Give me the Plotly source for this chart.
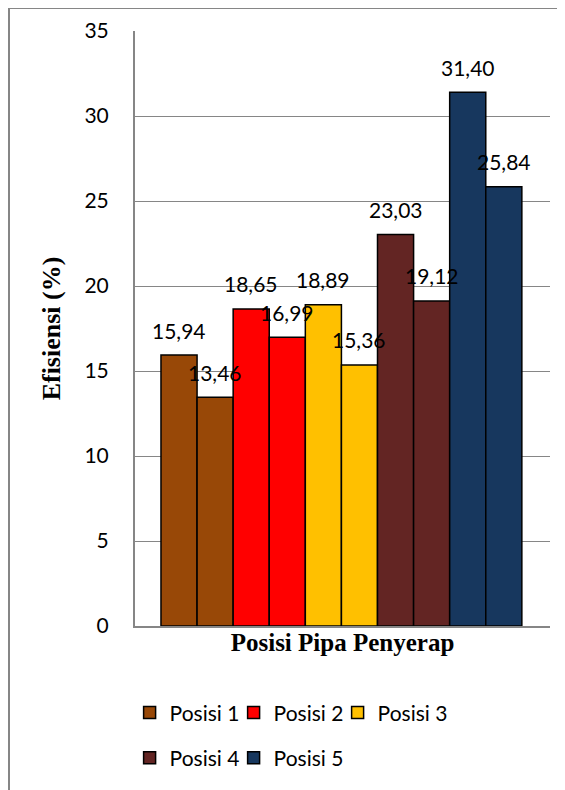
import plotly.graph_objects as go

series_names = ["Posisi 1", "Posisi 2", "Posisi 3", "Posisi 4", "Posisi 5"]
series_colors = ["#984807", "#FF0000", "#FFC000", "#632523", "#17375E"]
series_values = [
    [15.94, 13.46],
    [18.65, 16.99],
    [18.89, 15.36],
    [23.03, 19.12],
    [31.40, 25.84],
]
y_ticks = [0, 5, 10, 15, 20, 25, 30, 35]

FONT = "Lato"
GRID = "#868686"

fig = go.Figure()
annotations = []
idx = 0
for i, (name, color, vals) in enumerate(zip(series_names, series_colors, series_values)):
    xs = list(range(idx, idx + len(vals)))
    idx += len(vals)
    fig.add_trace(go.Bar(
        x=xs, y=vals, name=name, width=1,
        marker=dict(color=color, line=dict(color="black", width=1.5)),
        legend="legend" if i < 3 else "legend2",
        hoverinfo="skip",
    ))
    for x, v in zip(xs, vals):
        annotations.append(dict(
            x=x, y=v, xref="x", yref="y", text=f"{v:.2f}".replace(".", ","),
            showarrow=False, yanchor="middle", yshift=25,
            font=dict(family=FONT, size=21, color="black"),
        ))

# empty spacer entries so the fixed-width legend rows are not clipped at the last item
for lg in ["legend", "legend2"]:
    fig.add_trace(go.Bar(
        x=[None], y=[None], name=" ", legend=lg, showlegend=True,
        marker=dict(color="rgba(0,0,0,0)", line=dict(width=0)), hoverinfo="skip",
    ))

legend_common = dict(
    orientation="h", xanchor="left", yanchor="middle",
    font=dict(family=FONT, size=21, color="black"),
    itemwidth=30, bgcolor="rgba(0,0,0,0)", tracegroupgap=0,
    entrywidth=59, itemclick=False, itemdoubleclick=False,
)

fig.update_layout(
    width=557, height=782,
    margin=dict(l=127, r=15, t=23, b=164, autoexpand=False),
    paper_bgcolor="white", plot_bgcolor="white",
    barmode="overlay",
    showlegend=True,
    legend=dict(x=-0.013, y=-0.146, **legend_common),
    legend2=dict(x=-0.013, y=-0.222, **legend_common),
    annotations=annotations,
    xaxis=dict(
        range=[-1.22, 10.28], showticklabels=False, showgrid=False, zeroline=False,
        showline=True, linecolor=GRID, linewidth=2, ticks="", automargin=False,
        title=dict(text="<b>Posisi Pipa Penyerap</b>", standoff=6,
                   font=dict(family="Liberation Serif", size=25, color="black")),
    ),
    yaxis=dict(
        range=[0, 35], tickvals=y_ticks, showgrid=True, gridcolor=GRID, gridwidth=1,
        zeroline=False, showline=True, linecolor=GRID, linewidth=2, ticks="",
        ticklabelstandoff=20, automargin=False,
        tickfont=dict(family=FONT, size=21, color="black"),
        title=dict(text="<b>Efisiensi (%)</b>", standoff=16,
                   font=dict(family="Liberation Serif", size=26, color="black")),
    ),
    shapes=[
        dict(type="line", xref="paper", yref="paper", x0=-0.3036, x1=-0.3036, y0=-0.2756, y1=1.0387,
             line=dict(color=GRID, width=2)),
        dict(type="line", xref="paper", yref="paper", x0=-0.3036, x1=1.0361, y0=1.0387, y1=1.0387,
             line=dict(color=GRID, width=2)),
    ],
)

fig.write_html("out.html")
